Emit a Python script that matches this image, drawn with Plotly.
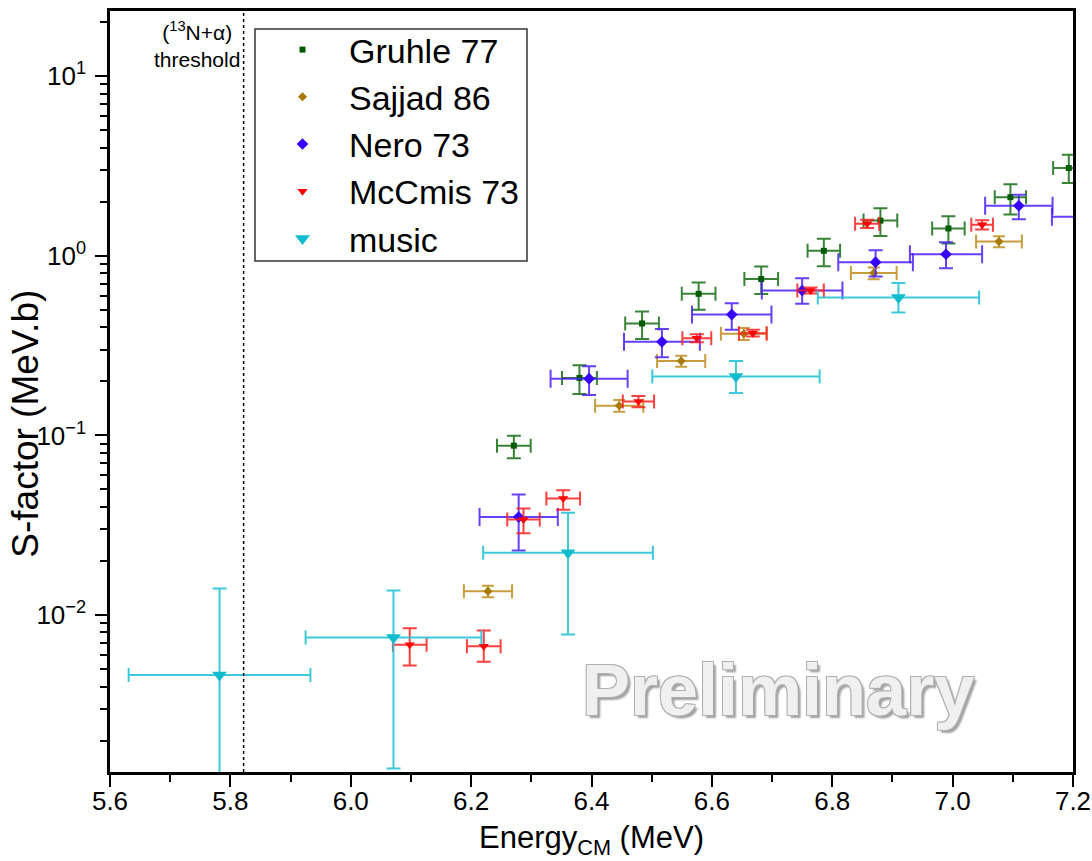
import plotly.graph_objects as go

# ---------------- data ----------------
gruhle_e = [6.271, 6.380, 6.484, 6.578, 6.682, 6.786, 6.880, 6.993, 7.096, 7.193]
gruhle_s = [0.0877, 0.209, 0.420, 0.614, 0.742, 1.066, 1.57, 1.42, 2.12, 3.08]
gruhle_dx = [0.028, 0.029, 0.028, 0.028, 0.028, 0.027, 0.028, 0.027, 0.026, 0.026]
gruhle_dsp = [0.012, 0.037, 0.070, 0.096, 0.13, 0.18, 0.27, 0.24, 0.38, 0.57]
gruhle_dsm = [0.013, 0.039, 0.076, 0.114, 0.13, 0.19, 0.28, 0.25, 0.42, 0.54]

sajjad_e = [6.228, 6.446, 6.549, 6.653, 6.869, 7.077]
sajjad_s = [0.01355, 0.1463, 0.2595, 0.368, 0.801, 1.20]
sajjad_dx = [0.040, 0.040, 0.040, 0.038, 0.038, 0.038]
sajjad_ds = [0.0010, 0.011, 0.018, 0.028, 0.060, 0.085]

nero_e = [6.279, 6.396, 6.517, 6.633, 6.750, 6.872, 6.989, 7.110, 7.225]
nero_s = [0.0351, 0.207, 0.332, 0.471, 0.641, 0.922, 1.02, 1.90, 1.65]
nero_dx = [0.065, 0.064, 0.063, 0.066, 0.067, 0.062, 0.060, 0.056, 0.060]
nero_dsp = [0.0118, 0.036, 0.059, 0.074, 0.11, 0.153, 0.17, 0.29, 0.25]
nero_dsm = [0.0122, 0.039, 0.060, 0.084, 0.10, 0.156, 0.167, 0.30, 0.25]

mccmis_e = [6.098, 6.221, 6.287, 6.353, 6.478, 6.575, 6.668, 6.764, 6.858, 7.049]
mccmis_s = [0.00684, 0.0067, 0.034, 0.0445, 0.1546, 0.348, 0.371, 0.641, 1.51, 1.49]
mccmis_dx = [0.028, 0.028, 0.027, 0.028, 0.026, 0.024, 0.023, 0.022, 0.020, 0.018]
mccmis_dsp = [0.0016, 0.0015, 0.0052, 0.0050, 0.011, 0.018, 0.016, 0.025, 0.08, 0.09]
mccmis_dsm = [0.0016, 0.0012, 0.0055, 0.0059, 0.011, 0.018, 0.016, 0.025, 0.08, 0.09]

music_e = [5.782, 6.071, 6.361, 6.640, 6.910]
music_s = [0.00464, 0.0075, 0.0222, 0.213, 0.586]
music_dx = [0.151, 0.146, 0.141, 0.139, 0.134]
music_dsp = [0.0094, 0.0062, 0.0149, 0.047, 0.119]
music_dsm = [0.0094, 0.0061, 0.0144, 0.041, 0.103]

threshold_e = 5.822

x_ticks = [5.6, 5.8, 6.0, 6.2, 6.4, 6.6, 6.8, 7.0, 7.2]
x_ticktext = ["5.6", "5.8", "6.0", "6.2", "6.4", "6.6", "6.8", "7.0", "7.2"]
y_major = [0.01, 0.1, 1, 10]
y_major_text = ["10<sup>\u22122</sup>", "10<sup>\u22121</sup>", "10<sup>0</sup>", "10<sup>1</sup>"]
y_minor = [m * 10 ** k for k in (-3, -2, -1, 0, 1) for m in range(2, 10)]

FONT = "Liberation Sans, Arial, sans-serif"

fig = go.Figure()


def add_series(name, x, y, dx, dyp, dym, mcolor, ecolor, symbol, size, xw=7, yw=7):
    fig.add_trace(go.Scatter(
        x=x, y=y, mode="markers", name=name,
        marker=dict(symbol=symbol, size=size, color=mcolor, line=dict(width=0)),
        error_x=dict(type="data", array=dx, symmetric=True, color=ecolor, thickness=2, width=xw),
        error_y=dict(type="data", array=dyp, arrayminus=dym, symmetric=False,
                     color=ecolor, thickness=2, width=yw),
    ))


add_series("Gruhle 77", gruhle_e, gruhle_s, gruhle_dx, gruhle_dsp, gruhle_dsm,
           "#005a00", "rgba(20,110,20,0.85)", "square", 6)
add_series("Sajjad 86", sajjad_e, sajjad_s, sajjad_dx, sajjad_ds, sajjad_ds,
           "#a87a00", "rgba(190,140,30,0.85)", "diamond", 7, xw=7, yw=6)
add_series("Nero 73", nero_e, nero_s, nero_dx, nero_dsp, nero_dsm,
           "#3500ff", "rgba(75,30,255,0.85)", "diamond", 9, xw=9, yw=7)
add_series("McCmis 73", mccmis_e, mccmis_s, mccmis_dx, mccmis_dsp, mccmis_dsm,
           "#ff0000", "rgba(255,30,30,0.85)", "triangle-down", 9)
add_series("music", music_e, music_s, music_dx, music_dsp, music_dsm,
           "#12bccf", "rgba(40,195,215,0.9)", "triangle-down", 13)

# threshold line
fig.add_shape(type="line", x0=threshold_e, x1=threshold_e, xref="x", y0=0, y1=1, yref="paper",
              line=dict(color="black", width=1.5, dash="dot"))
fig.add_annotation(x=threshold_e, xref="x", y=1, yref="paper", xanchor="right", yanchor="top",
                   xshift=-2, yshift=-5, showarrow=False, align="center",
                   text="(<sup>13</sup>N+\u03b1)<br>threshold",
                   font=dict(family=FONT, size=21, color="black"))

# legend frame
fig.add_shape(type="rect", xref="paper", yref="paper",
              x0=(255 - 110) / 963, x1=(527 - 110) / 963,
              y0=(772 - 261) / 761, y1=(772 - 29) / 761,
              line=dict(color="#333333", width=1.5), fillcolor="white", layer="below")

# axis titles
fig.add_annotation(x=-0.088, xref="paper", y=0.458, yref="paper", textangle=-90,
                   xanchor="center", yanchor="middle", showarrow=False,
                   text="S-factor (MeV.b)", font=dict(family=FONT, size=37, color="black"))
fig.add_annotation(x=0.50, xref="paper", y=-0.090, yref="paper",
                   xanchor="center", yanchor="middle", showarrow=False,
                   text="Energy<sub>CM</sub> (MeV)", font=dict(family=FONT, size=31, color="black"))

# watermark
fig.add_annotation(x=0.694, xref="paper", y=0.108, yref="paper",
                   xanchor="center", yanchor="middle", showarrow=False,
                   text="<b>Preliminary</b>",
                   font=dict(family=FONT, size=72, color="#f0f0f0",
                             shadow="-1px -1px 0 #b0b0b0, 1px -1px 0 #b0b0b0, -1px 1px 0 #b0b0b0, "
                                    "1px 1px 0 #b0b0b0, 3px 3px 2px #a0a0a0"))

fig.update_xaxes(
    range=[5.6, 7.2], tickmode="array", tickvals=x_ticks, ticktext=x_ticktext,
    automargin=False,
    ticks="outside", ticklen=12, tickwidth=2, tickcolor="black",
    showline=True, linewidth=2.5, linecolor="black", mirror=True,
    showgrid=False, zeroline=False, ticklabelstandoff=-8,
    tickfont=dict(family=FONT, size=26, color="black"),
    minor=dict(ticks="outside", ticklen=7, tickwidth=2, tickcolor="black",
               tickmode="linear", tick0=5.6, dtick=0.1, showgrid=False),
)
fig.update_yaxes(
    type="log", range=[-2.874, 1.363],
    tickmode="array", tickvals=y_major, ticktext=y_major_text,
    automargin=False,
    ticks="outside", ticklen=12, tickwidth=2, tickcolor="black",
    showline=True, linewidth=2.5, linecolor="black", mirror=True,
    showgrid=False, zeroline=False, ticklabelstandoff=4,
    tickfont=dict(family=FONT, size=26, color="black"),
    minor=dict(ticks="outside", ticklen=7, tickwidth=2, tickcolor="black",
               tickmode="array", tickvals=y_minor, showgrid=False),
)

fig.update_layout(
    width=1092, height=861,
    margin=dict(l=110, r=19, t=11, b=89, autoexpand=False),
    paper_bgcolor="white", plot_bgcolor="white",
    showlegend=True,
    legend=dict(x=(256 - 110) / 963, y=(772 - 21) / 761, xanchor="left", yanchor="top",
                bgcolor="rgba(0,0,0,0)", borderwidth=0,
                font=dict(family=FONT, size=34, color="black"),
                itemwidth=83, tracegroupgap=0),
)

fig.write_html("out.html")
